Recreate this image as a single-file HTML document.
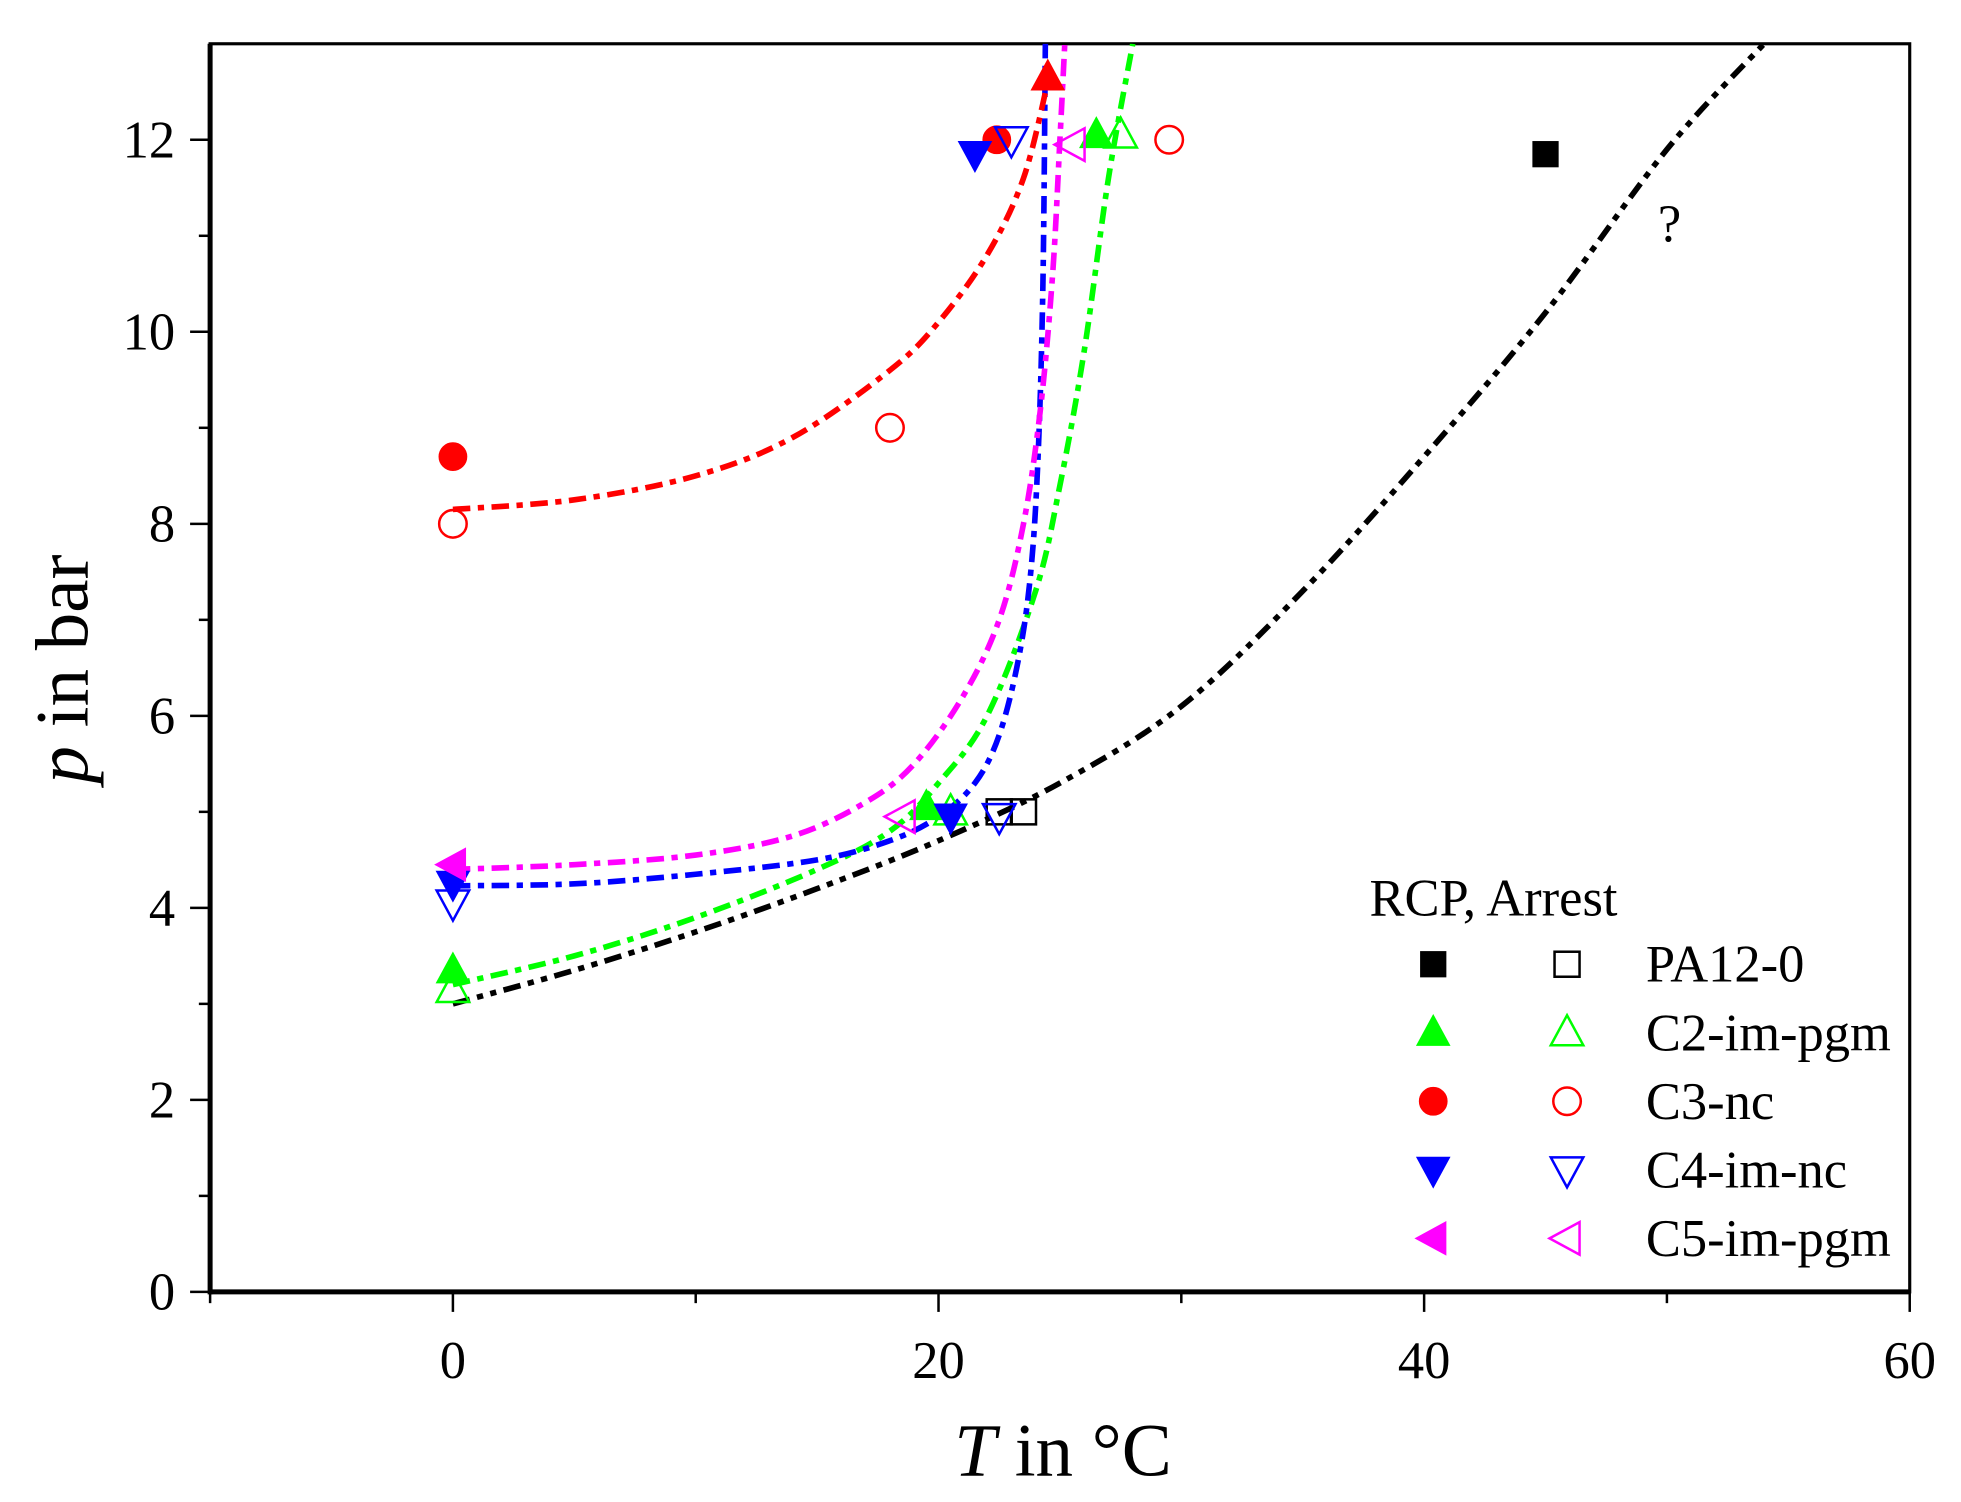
<!DOCTYPE html>
<html><head><meta charset="utf-8"><style>
html,body{margin:0;padding:0;background:#fff;}
svg{display:block;font-family:"Liberation Serif","DejaVu Serif",serif;}
</style></head><body>
<svg id="chart" width="1961" height="1502" viewBox="0 0 1568 1201" preserveAspectRatio="none" xmlns="http://www.w3.org/2000/svg">
<g id="plot"></g>
</svg>
<script>
const xTicks=[0,20,40,60];
const xMinor=[-10,10,30,50];
const yTicks=[0,2,4,6,8,10,12];
const yMinor=[1,3,5,7,9,11];
const series=["PA12-0","C2-im-pgm","C3-nc","C4-im-nc","C5-im-pgm"];
const colors=["#000000","#00ff00","#ff0000","#0000ff","#ff00ff"];
const shapes=["square","up","circle","down","left"];
// RCP (filled) points
const rcpT=[[45],[0,19.5,26.5],[0,22.4,24.5],[0,20.5,21.5],[0]];
const rcpP=[[11.85],[3.35,5.05,12.05],[8.7,12.0,12.65],[4.25,4.95,11.85],[4.45]];
// Arrest (open) points
const arrT=[[22.5,23.5],[0,20.5,27.5],[0,18,29.5],[0,22.5,23],[18.5,25.5]];
const arrP=[[5.0,5.0],[3.15,5.0,12.05],[8.0,9.0,12.0],[4.05,4.95,12.0],[4.95,11.95]];
// Fit curves
const fitT=[[0,5,10,15,20,25,30,35,40,45,50,54],
 [0,5,10,15,18,20,22,24,25,26,27,28],
 [0,5,10,14,18,20,22,23.5,24.5],
 [0,5,10,15,18,20,21.5,22.5,23.3,23.8,24.1,24.3,24.4],
 [0,5,10,14,17,19,21,22.5,23.5,24.2,24.7,25,25.2]];
const fitP=[[3.0,3.35,3.75,4.2,4.7,5.3,6.1,7.3,8.7,10.2,11.9,13.0],
 [3.2,3.5,3.9,4.4,4.8,5.3,6.0,7.3,8.4,9.8,11.6,13.0],
 [8.15,8.25,8.5,8.9,9.6,10.1,10.8,11.6,12.6],
 [4.23,4.25,4.35,4.5,4.7,4.95,5.3,5.8,6.6,7.5,8.7,10.5,13.0],
 [4.4,4.45,4.55,4.75,5.1,5.5,6.2,7.0,8.0,9.2,10.6,12.0,13.0]];
const dashes=["14 6 5 6 5 6","14 6 5 6","14 6 5 6","14 6 5 6","14 6 5 6"];

const L=168,R=1527,T=35,B=1033;
const xs=t=>L+(t+10)/70*(R-L);
const ys=p=>B-p/13*(B-T);
const NS="http://www.w3.org/2000/svg";
const g=document.getElementById('plot');
function el(tag,attrs,parent){const e=document.createElementNS(NS,tag);for(const k in attrs)e.setAttribute(k,attrs[k]);(parent||g).appendChild(e);return e;}

let fr=el('rect',{x:L,y:T,width:R-L,height:B-T,fill:'none',stroke:'#000','stroke-width':2.5});


let ax=el('line',{x1:L,y1:B,x2:R,y2:B,stroke:'#000','stroke-width':4});


let ay=el('line',{x1:L,y1:T,x2:L,y2:B+2,stroke:'#000','stroke-width':4});



xTicks.forEach(t=>{
 let l=el('line',{x1:xs(t),y1:B,x2:xs(t),y2:B+16,stroke:'#000','stroke-width':2});
 
 
 let tx=el('text',{x:xs(t),y:B+69,'font-size':42,'text-anchor':'middle'});tx.textContent=t;
 
 
});
xMinor.forEach(t=>{
 let l=el('line',{x1:xs(t),y1:B,x2:xs(t),y2:B+9,stroke:'#000','stroke-width':2});
 
 
});
yTicks.forEach(p=>{
 let l=el('line',{x1:L-16,y1:ys(p),x2:L,y2:ys(p),stroke:'#000','stroke-width':2});
 
 
 let tx=el('text',{x:L-28,y:ys(p)+14,'font-size':42,'text-anchor':'end'});tx.textContent=p;
 
 
});
yMinor.forEach(p=>{
 let l=el('line',{x1:L-9,y1:ys(p),x2:L,y2:ys(p),stroke:'#000','stroke-width':2});
 
 
});
let xt=el('text',{x:850,y:1180,'font-size':60,'text-anchor':'middle'});
xt.innerHTML='<tspan font-style="italic">T</tspan> in °C';


let yt=el('text',{x:0,y:0,'font-size':60,'text-anchor':'middle',transform:'translate(70,535) rotate(-90)'});
yt.innerHTML='<tspan font-style="italic">p</tspan> in bar';



const clip=el('clipPath',{id:'cp'});
el('rect',{x:L,y:T,width:R-L,height:B-T},clip);

function smoothPath(pts){
 let d='M'+pts[0][0]+','+pts[0][1];
 for(let i=0;i<pts.length-1;i++){
  const p0=pts[Math.max(0,i-1)],p1=pts[i],p2=pts[i+1],p3=pts[Math.min(pts.length-1,i+2)];
  const c1=[p1[0]+(p2[0]-p0[0])/6,p1[1]+(p2[1]-p0[1])/6];
  const c2=[p2[0]-(p3[0]-p1[0])/6,p2[1]-(p3[1]-p1[1])/6];
  d+=' C'+c1[0]+','+c1[1]+' '+c2[0]+','+c2[1]+' '+p2[0]+','+p2[1];
 }
 return d;
}
const order=[0,1,3,4,2];
order.forEach(i=>{
 const pts=fitT[i].map((t,j)=>[xs(t),ys(fitP[i][j])]);
 let p=el('path',{d:smoothPath(pts),fill:'none',stroke:colors[i],'stroke-width':4.5,'stroke-dasharray':dashes[i],'clip-path':'url(#cp)'});
 
 
});

function marker(shape,cx,cy,color,filled,parent){
 const s=12;
 const a=filled?{fill:color,stroke:color,'stroke-width':1}:{fill:'none',stroke:color,'stroke-width':2};
 let e;
 if(shape==='square')e=el('rect',Object.assign({x:cx-s+2,y:cy-s+2,width:2*s-4,height:2*s-4},a),parent);
 else if(shape==='circle')e=el('circle',Object.assign({cx:cx,cy:cy,r:s-1},a),parent);
 else{
  let P;
  if(shape==='up')P=[[cx,cy-s-2],[cx-s-1,cy+s-2],[cx+s+1,cy+s-2]];
  else if(shape==='down')P=[[cx,cy+s+2],[cx-s-1,cy-s+2],[cx+s+1,cy-s+2]];
  else P=[[cx-s-2,cy],[cx+s-2,cy-s-1],[cx+s-2,cy+s+1]];
  e=el('polygon',Object.assign({points:P.map(q=>q.join(',')).join(' ')},a),parent);
 }
 return e;
}
series.forEach((n,i)=>{
 arrT[i].forEach((t,j)=>{
  const m=marker(shapes[i],xs(t),ys(arrP[i][j]),colors[i],false);
  
  
 });
 rcpT[i].forEach((t,j)=>{
  const sh=(i===2&&j===2)?'up':shapes[i];
  const m=marker(sh,xs(t),ys(rcpP[i][j]),colors[i],true);
  
  
 });
});
let q=el('text',{x:1335,y:193,'font-size':42,'text-anchor':'middle'});q.textContent='?';



const lg=el('g',{});


let lt=el('text',{x:1095,y:732,'font-size':42},lg);lt.textContent='RCP, Arrest';


series.forEach((n,i)=>{
 const y=771+i*54.8;
 const a=marker(shapes[i],1146,y,colors[i],true,lg);
 
 
 const b=marker(shapes[i],1253,y,colors[i],false,lg);
 
 
 const t=el('text',{x:1316,y:y+14,'font-size':42},lg);t.textContent=n;
 
 
});
</script>
</body></html>
